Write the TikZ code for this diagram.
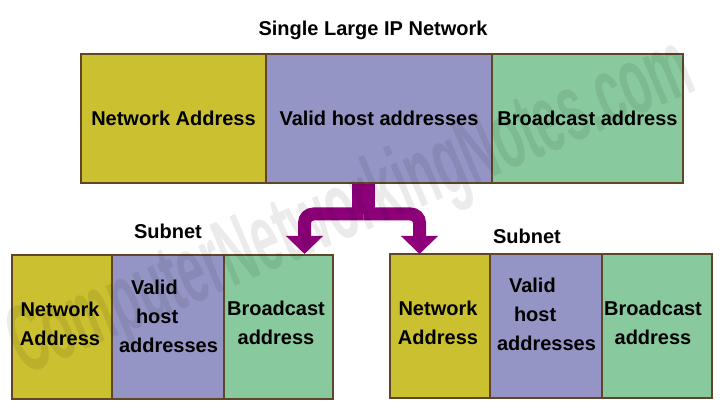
\documentclass[tikz,border=0pt]{standalone}
\usepackage{fontspec}
\setmainfont{Liberation Sans}
\usetikzlibrary{arrows.meta}
\definecolor{netolive}{RGB}{203,192,48}
\definecolor{hostblue}{RGB}{149,149,197}
\definecolor{castgreen}{RGB}{136,202,158}
\definecolor{cellframe}{RGB}{96,70,40}
\definecolor{splitpurple}{RGB}{142,0,122}
\tikzset{l/.style={font=\fontsize{20}{29}\selectfont\bfseries}}
\tikzset{cell/.style={draw=cellframe, line width=1.5pt, align=center, inner sep=0pt, l}}
\tikzset{na/.style={cell, fill=netolive}}
\tikzset{vh/.style={cell, fill=hostblue}}
\tikzset{ba/.style={cell, fill=castgreen}}
\tikzset{branch/.style={splitpurple, line width=13pt, rounded corners=9pt,
    -{Triangle[width=36pt,length=18pt]}}}

\begin{document}
\begin{tikzpicture}[x=1pt, y=-1pt]
        \useasboundingbox (0,0) rectangle (723,414);
        % single network
        \node [l] (title) at (373, 30) {Single Large IP Network};
        \node [na, minimum width=185, minimum height=129] (topNA) at (173.5, 118.5) {Network Address};
        \node [vh, minimum width=226, minimum height=129] (topVH) at (379, 118.5) {Valid host addresses};
        \node [ba, minimum width=191, minimum height=129] (topBA) at (587.5, 118.5) {Broadcast address};
        % left subnet
        \node [l] (subL) at (168, 231) {Subnet};
        \node [na, minimum width=100, minimum height=144] (leftNA) at (62, 327) {};
        \node [vh, minimum width=112, minimum height=144] (leftVH) at (168, 327) {};
        \node [ba, minimum width=109, minimum height=144] (leftBA) at (278.5, 327) {};
        \node [l, align=center] (leftNAtext) at (60, 323.5) {Network\\Address};
        \node [l, align=left] (leftVHtext) at (168.5, 316) {\hspace{12pt}Valid\\\hspace{17pt}host\\addresses};
        \node [l, align=center] (leftBAtext) at (276, 322.5) {Broadcast\\address};
        % right subnet
        \node [l] (subR) at (527, 236) {Subnet};
        \node [na, minimum width=100, minimum height=144] (rightNA) at (440, 326) {};
        \node [vh, minimum width=112, minimum height=144] (rightVH) at (546, 326) {};
        \node [ba, minimum width=110, minimum height=144] (rightBA) at (657, 326) {};
        \node [l, align=center] (rightNAtext) at (438, 322.5) {Network\\Address};
        \node [l, align=left] (rightVHtext) at (546.5, 314) {\hspace{12pt}Valid\\\hspace{17pt}host\\addresses};
        \node [l, align=center] (rightBAtext) at (653, 322.5) {Broadcast\\address};
        % split arrow
        \coordinate (split) at (363.5, 214);
        \coordinate (tipL) at (304.5, 254);
        \coordinate (tipR) at (419.5, 254);
        \draw [branch] (split) -| (tipL);
        \draw [branch] (split) -| (tipR);
        \draw [splitpurple, line width=23pt] (topVH.south -| split) -- (split);
        % watermark
        \node [rotate=23, xscale=0.5, black, opacity=0.08, font=\fontsize{96}{96}\selectfont\bfseries] (mark)
          at (352, 210) {ComputerNetworkingNotes.com};
\end{tikzpicture}
\end{document}
